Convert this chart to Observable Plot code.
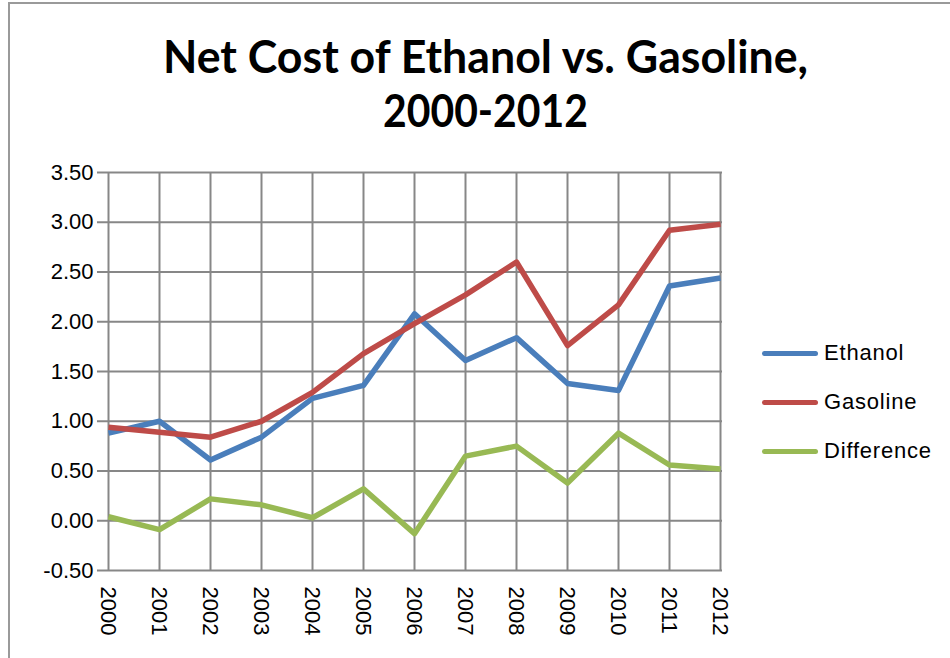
<!DOCTYPE html>
<html>
<head>
<meta charset="utf-8">
<script src="https://cdn.jsdelivr.net/npm/d3@7"></script>
<script src="https://cdn.jsdelivr.net/npm/@observablehq/plot@0.6"></script>
<style>
  html, body { margin: 0; padding: 0; background: #fff; overflow: hidden; }
  #wrap { position: relative; width: 950px; height: 658px; overflow: hidden; background: #fff; }
  #border { position: absolute; left: 8px; top: 2px; width: 960px; height: 700px; border: 2px solid #9a9a9a; box-sizing: border-box; }
  #chart { position: absolute; left: 0; top: 0; }
  #title { position: absolute; left: 0; top: 0; }
  #legend { position: absolute; left: 762px; top: 0; font-family: "Liberation Sans", Arial, sans-serif; font-size: 22px; letter-spacing: 0.8px; color: #000; }
  .item { position: absolute; left: 0; display: flex; align-items: center; white-space: nowrap; height: 30px; }
  .sw { width: 56px; height: 5px; border-radius: 3px; margin-right: 6px; }
</style>
</head>
<body>
<div id="wrap">
  <div id="border"></div>
  <div id="chart"></div>
  <svg id="title" width="950" height="150" xmlns="http://www.w3.org/2000/svg"></svg>
  <div id="legend"></div>
</div>
<script>
const years = [2000, 2001, 2002, 2003, 2004, 2005, 2006, 2007, 2008, 2009, 2010, 2011, 2012];
const ethanol    = [0.88, 1.00, 0.61, 0.84, 1.23, 1.36, 2.08, 1.61, 1.84, 1.38, 1.31, 2.36, 2.44];
const gasoline   = [0.94, 0.89, 0.84, 1.00, 1.29, 1.68, 1.98, 2.27, 2.60, 1.76, 2.17, 2.92, 2.98];
const difference = [0.04, -0.09, 0.22, 0.16, 0.03, 0.32, -0.13, 0.65, 0.75, 0.38, 0.88, 0.56, 0.52];
const seriesNames = ["Ethanol", "Gasoline", "Difference"];
const seriesColors = ["#4A7EBB", "#BE4B48", "#98B954"];
const yTicks = [-0.5, 0, 0.5, 1, 1.5, 2, 2.5, 3, 3.5];
const titleLines = ["Net Cost of Ethanol vs. Gasoline,", "2000-2012"];

const valuesBySeries = [ethanol, gasoline, difference];
const data = years.flatMap((yr, i) =>
  seriesNames.map((s, k) => ({ year: yr, series: s, value: valuesBySeries[k][i] }))
);

const grid = "#878787";

const chart = Plot.plot({
  width: 950,
  height: 658,
  marginLeft: 106,
  marginRight: 228,
  marginTop: 172,
  marginBottom: 88,
  style: { fontFamily: "Liberation Sans, Arial, sans-serif", fontSize: "22px", background: "transparent", color: "#000" },
  x: { type: "point", domain: years, padding: 0 },
  y: { domain: [-0.5, 3.5] },
  color: { domain: seriesNames, range: seriesColors },
  marks: [
    Plot.gridX(years, { stroke: grid, strokeOpacity: 1, strokeWidth: 2 }),
    Plot.gridY(yTicks, { stroke: grid, strokeOpacity: 1, strokeWidth: 2 }),
    Plot.axisY(yTicks, { tickFormat: d => d.toFixed(2), tickSize: 9, tickPadding: 4, stroke: grid, strokeWidth: 2, fill: "#000", label: null }),
    Plot.axisX(years, { tickRotate: 90, tickSize: 0, tickPadding: 16, tickFormat: d => String(d), fill: "#000", label: null }),
    Plot.line(data, { x: "year", y: "value", z: "series", stroke: "series", strokeWidth: 5.5, strokeLinejoin: "round", strokeLinecap: "butt" })
  ]
});
document.getElementById("chart").appendChild(chart);

// Title
const ns = "http://www.w3.org/2000/svg";
const tsvg = document.getElementById("title");
const tspecs = [
  { text: titleLines[0], y: 73, len: 645 },
  { text: titleLines[1], y: 127, len: 205 }
];
tspecs.forEach(t => {
  const el = document.createElementNS(ns, "text");
  el.setAttribute("x", 485.5);
  el.setAttribute("y", t.y);
  el.setAttribute("text-anchor", "middle");
  el.setAttribute("font-family", "Lato, 'Open Sans', sans-serif");
  el.setAttribute("font-weight", "bold");
  el.setAttribute("font-size", "46");
  el.setAttribute("textLength", t.len);
  el.setAttribute("lengthAdjust", "spacingAndGlyphs");
  el.textContent = t.text;
  tsvg.appendChild(el);
});

// Legend
const legend = document.getElementById("legend");
const legendTops = [353, 402, 451];
seriesNames.forEach((s, k) => {
  const item = document.createElement("div");
  item.className = "item";
  item.style.top = (legendTops[k] - 15) + "px";
  const sw = document.createElement("div");
  sw.className = "sw";
  sw.style.background = seriesColors[k];
  const lab = document.createElement("span");
  lab.textContent = s;
  item.appendChild(sw);
  item.appendChild(lab);
  legend.appendChild(item);
});
</script>
</body>
</html>
